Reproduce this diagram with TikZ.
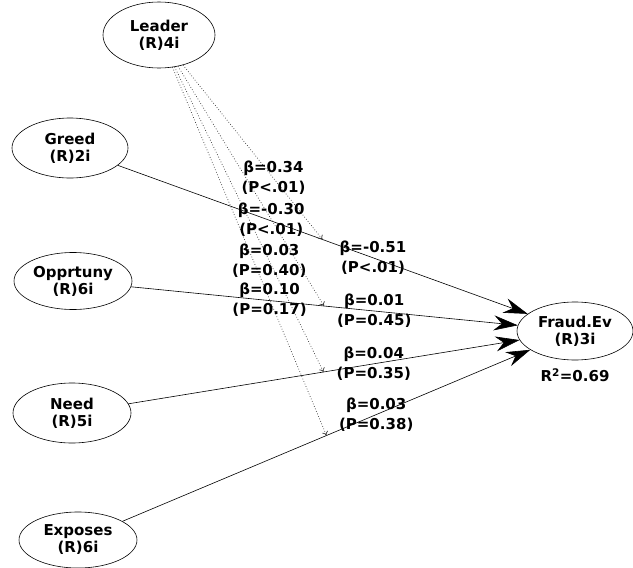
\documentclass[tikz,border=0pt]{standalone}
\usepackage{fontspec}
\setmainfont{DejaVu Sans}
\usetikzlibrary{arrows.meta,calc,shapes.geometric}

\begin{document}
\begin{tikzpicture}[
    x=1pt, y=-1pt,
    construct/.style={
        draw,
        ellipse,
        line width=0.6pt,
        align=center,
        inner sep=0pt,
        font=\fontsize{15}{17}\selectfont\bfseries,
        minimum width=118pt,
        minimum height=60pt
    },
    relation/.style={-{Stealth[length=24pt,width=15pt,inset=8pt]}, line width=0.6pt},
    moderation/.style={-{To[length=4pt,width=6pt]}, dotted, line width=0.7pt, gray!40!black},
    coef/.style={align=center, inner sep=0pt, font=\fontsize{15}{20}\selectfont\bfseries}
]
\useasboundingbox (0,0) rectangle (633,568);

\node[construct, minimum width=112pt, minimum height=66pt] (leader) at (159,35) {Leader\\(R)4i};

\node[construct, minimum width=116pt] (greed) at (70,148) {Greed\\(R)2i};
\node[construct, minimum height=57pt] (opprtuny) at (73,281) {Opprtuny\\(R)6i};
\node[construct] (need) at (72,413) {Need\\(R)5i};
\node[construct, minimum height=56pt] (exposes) at (78,540) {Exposes\\(R)6i};

\node[construct, minimum width=116pt, minimum height=58pt] (fraud) at (575,331) {Fraud.Ev\\(R)3i};
\node[coef] (rsq) at (575,375) {R\textsuperscript{2}=0.69};

% direct paths
\draw[relation] (greed) -- (fraud);
\draw[relation] (opprtuny) -- (fraud);
\draw[relation] (need) -- (fraud);
\draw[relation] (exposes) -- (fraud);

% moderating effects of leader
\coordinate (m_greed) at ($(greed)!0.5!(fraud)$);
\coordinate (m_opprtuny) at ($(opprtuny)!0.5!(fraud)$);
\coordinate (m_need) at ($(need)!0.5!(fraud)$);
\coordinate (m_exposes) at ($(exposes)!0.5!(fraud)$);

\draw[moderation] (leader) -- (m_greed);
\draw[moderation] (leader) -- (m_opprtuny);
\draw[moderation] (leader) -- (m_need);
\draw[moderation] (leader) -- (m_exposes);

\node[coef] (c_greed) at ($(greed)!0.6!(fraud)$) {β=-0.51\\(P<.01)};
\node[coef] (c_opprtuny) at ($(opprtuny)!0.6!(fraud)$) {β=0.01\\(P=0.45)};
\node[coef] (c_need) at ($(need)!0.6!(fraud)$) {β=0.04\\(P=0.35)};
\node[coef] (c_exposes) at ($(exposes)!0.6!(fraud)$) {β=0.03\\(P=0.38)};

\node[coef] (l_greed) at ($(leader)!0.7!(m_greed)$) {β=0.34\\(P<.01)};
\node[coef] (l_opprtuny) at ($(leader)!0.68!(m_opprtuny)$) {β=-0.30\\(P<.01)};
\node[coef] (l_need) at ($(leader)!0.67!(m_need)$) {β=0.03\\(P=0.40)};
\node[coef] (l_exposes) at ($(leader)!0.66!(m_exposes)$) {β=0.10\\(P=0.17)};

\end{tikzpicture}
\end{document}
